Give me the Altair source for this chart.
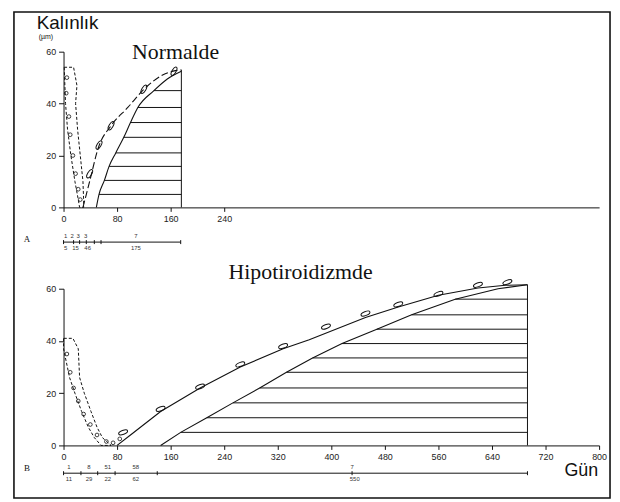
import altair as alt
import pandas as pd

# ---------------- Panel A (Normalde) ----------------
a_band_v = [54, 47, 40, 30, 20, 10, 3, 0]
a_band_left = [1, 2, 3, 6, 11, 17, 22, 24]
a_band_right = [15, 20, 18, 21, 25, 29, 30, 30]
a_outer_day = [29, 39, 52, 71, 96, 120, 148, 167, 176]
a_outer_val = [0, 10, 23, 31.5, 38.5, 45.5, 51, 52.7, 53]
a_inner_day = [49, 53, 61, 68, 78, 90, 100, 111, 135, 155, 176]
a_inner_val = [0, 5, 10.4, 15.8, 21, 27, 32.7, 38.5, 45, 49.5, 52.5]
a_hatch_val = [5, 10.4, 15.8, 21, 27, 32.7, 38.5, 45]
a_hatch_start = [53, 61, 68, 78, 90, 100, 111, 135]
a_end_day = 176
a_ell_day = [39, 53, 71, 120, 165]
a_ell_val = [13, 24, 31.5, 45.5, 52.5]
a_blob_day = [5, 4, 8, 10, 14, 18, 22, 25]
a_blob_val = [50, 44, 35, 28, 20, 13, 7, 3]
a_tl_ticks = [0, 15, 24, 34, 46, 56, 175]
a_tl_top_day = [3, 13, 22, 33, 108]
a_tl_top_txt = ["1", "2", "3", "3", "7"]
a_tl_bot_day = [3, 18, 36, 108]
a_tl_bot_txt = ["5", "15", "46", "175"]

# ---------------- Panel B (Hipotiroidizmde) ----------------
b_band_v = [41, 37, 26, 20, 13, 7, 3, 0]
b_band_left = [0, 0, 9, 17, 27, 37, 46, 56]
b_band_right = [14, 22, 24, 31, 41, 50, 58, 71]
b_outer_day = [80, 100, 145, 204, 264, 328, 367, 451, 500, 560, 619, 660, 693]
b_outer_val = [0, 4, 13, 22, 30, 37, 40.5, 49, 53, 57.5, 60.3, 61.3, 61.5]
b_inner_day = [145, 175, 214, 253, 293, 333, 372, 416, 468, 520, 585, 649, 693]
b_inner_val = [0, 5, 10.6, 16.3, 22, 28, 33.5, 39, 44.5, 50, 56, 60, 61.5]
b_hatch_val = [5, 10.6, 16.3, 22, 28, 33.5, 39, 44.5, 50, 56]
b_hatch_start = [175, 214, 253, 293, 333, 372, 416, 468, 520, 585]
b_end_day = 693
b_ell_day = [89, 145, 204, 264, 328, 392, 451, 500, 560, 619, 663]
b_ell_val = [5, 14, 22.5, 31, 38, 45.5, 50.5, 54, 58, 61.5, 62.5]
b_blob_day = [5, 10, 15, 22, 30, 40, 50, 64, 74, 84]
b_blob_val = [35, 28, 22, 17, 12, 8, 4, 1.5, 1, 2.5]
b_tl_ticks = [0, 26, 51, 77, 140, 431, 693]
b_tl_top_day = [8, 38, 66, 108, 431]
b_tl_top_txt = ["1", "8", "51", "58", "7"]
b_tl_bot_day = [8, 38, 66, 108, 435]
b_tl_bot_txt = ["11", "29", "22", "62", "550"]

y_ticks = [0, 20, 40, 60]
a_x_ticks = [0, 80, 160, 240]
b_x_ticks = [0, 80, 160, 240, 320, 400, 480, 560, 640, 720, 800]

W = 540
HA = 157
HB = 158
INK = "#111111"
ELLIPSE = "M -1 0 A 1 0.42 0 1 1 1 0 A 1 0.42 0 1 1 -1 0 Z"


def X(field, ticks):
    return alt.X(field, type="quantitative",
                 scale=alt.Scale(domain=[0, 800], nice=False, zero=False),
                 axis=alt.Axis(values=ticks, title=None, grid=False, tickSize=4,
                               labelFontSize=9, labelFont="Liberation Sans",
                               labelColor="#222222", domainColor=INK, tickColor=INK,
                               labelPadding=3, labelFlush=False))


def Y(field):
    return alt.Y(field, type="quantitative",
                 scale=alt.Scale(domain=[0, 60], nice=False, zero=False),
                 axis=alt.Axis(values=y_ticks, title=None, grid=False, tickSize=5,
                               labelFontSize=9, labelFont="Liberation Sans",
                               labelColor="#222222", domainColor=INK, tickColor=INK,
                               labelPadding=3))


def text_layer(txt, x, y, size, font, align="left", baseline="alphabetic", angle=0):
    return alt.Chart(pd.DataFrame({"t": [txt]})).mark_text(
        fontSize=size, font=font, align=align, baseline=baseline, color=INK,
        angle=angle).encode(text="t:N", x=alt.value(x), y=alt.value(y))


def panel(band_v, band_l, band_r, outer_d, outer_v, outer_dash, inner_d, inner_v,
          hatch_v, hatch_s, end_day, ell_d, ell_v, ell_angle, blob_d, blob_v,
          tl_ticks, tl_top_d, tl_top_t, tl_bot_d, tl_bot_t, tl_y, xticks, top_val,
          interp):
    band = alt.Chart(pd.DataFrame({"v": band_v, "l": band_l, "r": band_r})).mark_area(
        orient="horizontal", fillOpacity=0, stroke=INK, strokeWidth=1, strokeDash=[3, 2]
    ).encode(y=Y("v"), x=X("l", xticks), x2="r")
    blobs = alt.Chart(pd.DataFrame({"d": blob_d, "v": blob_v})).mark_point(
        shape="circle", size=14, filled=False, stroke=INK, strokeWidth=0.8, opacity=1
    ).encode(x=X("d", xticks), y=Y("v"))
    outer_kw = dict(color=INK, strokeWidth=1.1, interpolate=interp)
    if outer_dash:
        outer_kw["strokeDash"] = [7, 3]
    outer = alt.Chart(pd.DataFrame({"d": outer_d, "v": outer_v})).mark_line(
        **outer_kw).encode(x=X("d", xticks), y=Y("v"))
    inner = alt.Chart(pd.DataFrame({"d": inner_d, "v": inner_v})).mark_line(
        color=INK, strokeWidth=1.1, interpolate=interp).encode(x=X("d", xticks), y=Y("v"))
    hatch = alt.Chart(pd.DataFrame({"s": hatch_s, "v": hatch_v,
                                    "e": [end_day] * len(hatch_v)})).mark_rule(
        color=INK, strokeWidth=1).encode(x=X("s", xticks), x2="e", y=Y("v"))
    vline = alt.Chart(pd.DataFrame({"d": [end_day], "v0": [0], "v1": [top_val]})).mark_rule(
        color=INK, strokeWidth=1).encode(x=X("d", xticks), y=Y("v0"), y2="v1")
    ell = alt.Chart(pd.DataFrame({"d": ell_d, "v": ell_v})).mark_point(
        shape=ELLIPSE, size=90, filled=False, stroke=INK, strokeWidth=1, opacity=1,
        angle=ell_angle).encode(x=X("d", xticks), y=Y("v"))
    tl_line = alt.Chart(pd.DataFrame({"a": [0], "b": [tl_ticks[-1]]})).mark_rule(
        color=INK, strokeWidth=1).encode(x=X("a", xticks), x2="b", y=alt.value(tl_y))
    tl_tk = alt.Chart(pd.DataFrame({"d": tl_ticks})).mark_rule(
        color=INK, strokeWidth=1).encode(x=X("d", xticks), y=alt.value(tl_y - 2),
                                        y2=alt.value(tl_y + 2))
    tl_top = alt.Chart(pd.DataFrame({"d": tl_top_d, "t": tl_top_t})).mark_text(
        fontSize=6, font="Liberation Sans", color="#333333", baseline="bottom"
    ).encode(x=X("d", xticks), y=alt.value(tl_y - 3), text="t:N")
    tl_bot = alt.Chart(pd.DataFrame({"d": tl_bot_d, "t": tl_bot_t})).mark_text(
        fontSize=6, font="Liberation Sans", color="#333333", baseline="top"
    ).encode(x=X("d", xticks), y=alt.value(tl_y + 3), text="t:N")
    return [band, blobs, outer, inner, hatch, vline, ell, tl_line, tl_tk, tl_top, tl_bot]


frame = alt.Chart(pd.DataFrame({"f": [1]})).mark_rect(
    fillOpacity=0, stroke=INK, strokeWidth=1.6
).encode(x=alt.value(-50), x2=alt.value(551), y=alt.value(-40), y2=alt.value(450))

layers_a = panel(a_band_v, a_band_left, a_band_right, a_outer_day, a_outer_val, True,
                 a_inner_day, a_inner_val, a_hatch_val, a_hatch_start, a_end_day,
                 a_ell_day, a_ell_val, 300, a_blob_day, a_blob_val,
                 a_tl_ticks, a_tl_top_day, a_tl_top_txt, a_tl_bot_day, a_tl_bot_txt,
                 192, a_x_ticks, 53, "monotone")
layers_a += [
    frame,
    text_layer("Kalınlık", -27, -23, 19, "Liberation Sans"),
    text_layer("(µm)", -25, -13, 7, "Liberation Sans"),
    text_layer("Normalde", 113, 7, 22, "Liberation Serif", align="center"),
    text_layer("A", -37, 189, 9, "Liberation Serif", align="center", baseline="middle"),
]
chart_a = alt.layer(*layers_a).properties(width=W, height=HA)

layers_b = panel(b_band_v, b_band_left, b_band_right, b_outer_day, b_outer_val, False,
                 b_inner_day, b_inner_val, b_hatch_val, b_hatch_start, b_end_day,
                 b_ell_day, b_ell_val, 339, b_blob_day, b_blob_val,
                 b_tl_ticks, b_tl_top_day, b_tl_top_txt, b_tl_bot_day, b_tl_bot_txt,
                 186, b_x_ticks, 61.5, "linear")
layers_b += [
    text_layer("Hipotiroidizmde", 239, -10, 22, "Liberation Serif", align="center"),
    text_layer("B", -37, 181, 9, "Liberation Serif", align="center", baseline="middle"),
    text_layer("Gün", 505, 189, 18, "Liberation Sans"),
]
chart_b = alt.layer(*layers_b).properties(width=W, height=HB)

chart = alt.vconcat(chart_a, chart_b, spacing=82, bounds="flush").properties(
    padding={"left": 4, "top": 0, "right": 0, "bottom": 0},
    background="white",
).configure_view(stroke="transparent")

chart.save("out.html", embed_options={"renderer": "svg", "actions": False})
